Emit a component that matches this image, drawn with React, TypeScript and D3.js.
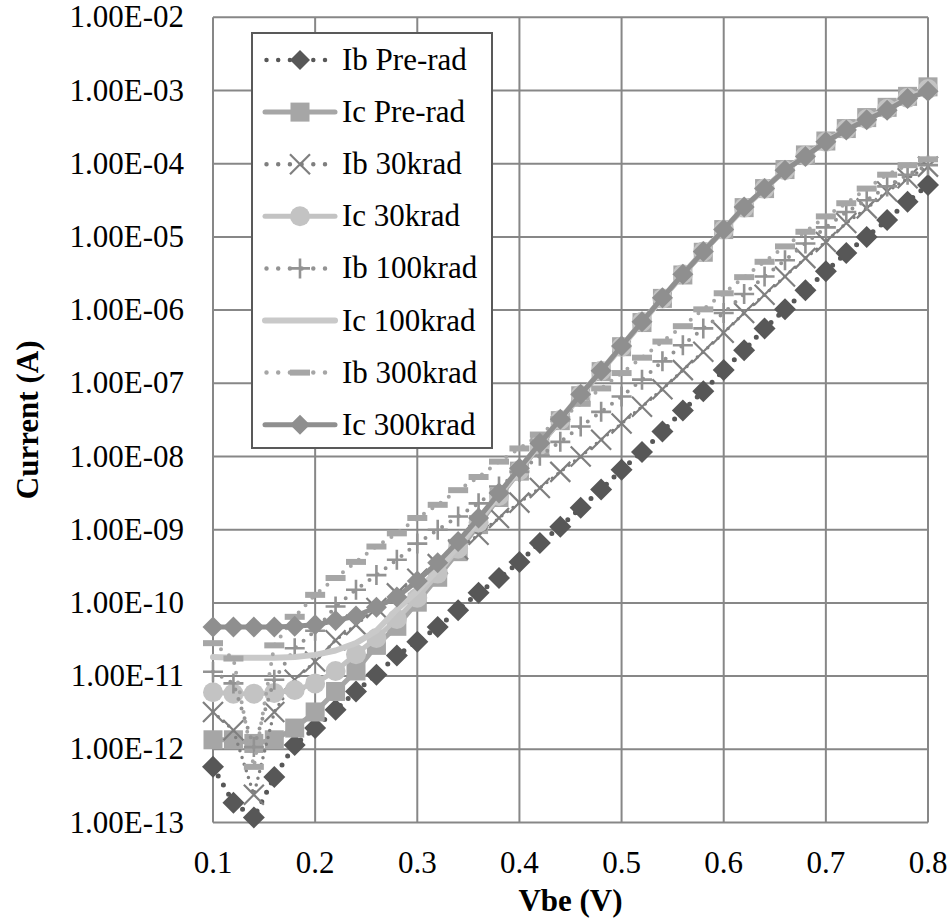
import React from "react";
import * as d3 from "d3";

// Vbe sweep (V)
const vbe = [0.1, 0.12, 0.14, 0.16, 0.18, 0.2, 0.22, 0.24, 0.26, 0.28, 0.3, 0.32, 0.34, 0.36, 0.38, 0.4, 0.42, 0.44, 0.46, 0.48, 0.5, 0.52, 0.54, 0.56, 0.58, 0.6, 0.62, 0.64, 0.66, 0.68, 0.7, 0.72, 0.74, 0.76, 0.78, 0.8];

// currents, log10(A)
const ibPreRad = [-12.24, -12.73, -12.93, -12.38, -11.94, -11.71, -11.46, -11.21, -10.98, -10.72, -10.53, -10.33, -10.10, -9.86, -9.66, -9.44, -9.18, -8.96, -8.70, -8.45, -8.18, -7.94, -7.66, -7.37, -7.11, -6.82, -6.55, -6.25, -5.99, -5.73, -5.47, -5.22, -5.00, -4.77, -4.52, -4.29];
const icPreRad = [-11.87, -11.87, -11.92, -11.87, -11.71, -11.49, -11.21, -10.93, -10.58, -10.32, -9.99, -9.65, -9.30, -8.93, -8.56, -8.20, -7.85, -7.51, -7.17, -6.84, -6.50, -6.17, -5.84, -5.52, -5.21, -4.90, -4.60, -4.34, -4.08, -3.88, -3.69, -3.52, -3.37, -3.23, -3.08, -2.95];
const ib30krad = [-11.49, -11.74, -12.62, -11.49, -11.05, -10.80, -10.51, -10.30, -10.07, -9.87, -9.67, -9.47, -9.27, -9.07, -8.84, -8.63, -8.43, -8.21, -8.00, -7.77, -7.55, -7.32, -7.08, -6.82, -6.57, -6.31, -6.04, -5.79, -5.54, -5.29, -5.07, -4.81, -4.61, -4.38, -4.20, -4.04];
const ic30krad = [-11.22, -11.24, -11.24, -11.23, -11.19, -11.10, -10.93, -10.70, -10.48, -10.22, -9.93, -9.60, -9.26, -8.90, -8.54, -8.19, -7.84, -7.50, -7.16, -6.83, -6.50, -6.16, -5.84, -5.51, -5.20, -4.90, -4.60, -4.34, -4.09, -3.89, -3.70, -3.53, -3.39, -3.25, -3.10, -2.98];
const ib100krad = [-10.94, -11.10, -11.97, -11.05, -10.62, -10.38, -10.05, -9.82, -9.62, -9.41, -9.19, -9.00, -8.82, -8.64, -8.41, -8.21, -7.99, -7.80, -7.59, -7.39, -7.18, -6.95, -6.70, -6.48, -6.25, -6.04, -5.78, -5.54, -5.32, -5.09, -4.87, -4.66, -4.50, -4.31, -4.15, -4.02];
const ic100krad = [-10.74, -10.75, -10.75, -10.75, -10.74, -10.71, -10.65, -10.55, -10.38, -10.09, -9.84, -9.55, -9.22, -8.87, -8.52, -8.18, -7.83, -7.49, -7.16, -6.83, -6.50, -6.16, -5.84, -5.51, -5.20, -4.90, -4.60, -4.34, -4.09, -3.89, -3.70, -3.53, -3.39, -3.26, -3.10, -2.99];
const ib300krad = [-10.55, -10.76, -12.24, -10.58, -10.19, -9.89, -9.66, -9.44, -9.23, -9.05, -8.84, -8.66, -8.46, -8.28, -8.07, -7.89, -7.70, -7.49, -7.28, -7.07, -6.86, -6.65, -6.43, -6.22, -5.99, -5.77, -5.55, -5.34, -5.13, -4.93, -4.72, -4.54, -4.34, -4.15, -4.02, -3.94];
const ic300krad = [-10.33, -10.33, -10.33, -10.33, -10.32, -10.30, -10.24, -10.18, -10.06, -9.92, -9.70, -9.45, -9.16, -8.84, -8.50, -8.16, -7.82, -7.49, -7.15, -6.83, -6.49, -6.16, -5.83, -5.51, -5.20, -4.90, -4.59, -4.34, -4.09, -3.90, -3.70, -3.54, -3.40, -3.27, -3.11, -3.01];

const seriesNames = ["Ib Pre-rad", "Ic Pre-rad", "Ib 30krad", "Ic 30krad", "Ib 100krad", "Ic 100krad", "Ib 300krad", "Ic 300krad"];

const xTicks = [0.1, 0.2, 0.3, 0.4, 0.5, 0.6, 0.7, 0.8];
const xTickLabels = ["0.1", "0.2", "0.3", "0.4", "0.5", "0.6", "0.7", "0.8"];
const yTicks = [1e-2, 1e-3, 1e-4, 1e-5, 1e-6, 1e-7, 1e-8, 1e-9, 1e-10, 1e-11, 1e-12, 1e-13];
const yTickLabels = ["1.00E-02", "1.00E-03", "1.00E-04", "1.00E-05", "1.00E-06", "1.00E-07", "1.00E-08", "1.00E-09", "1.00E-10", "1.00E-11", "1.00E-12", "1.00E-13"];

const W = 952;
const H = 923;
const PL = 213, PR = 928, PT = 17.3, PB = 822.5;
const FONT = '"Liberation Serif"';
const FS = 31;
const GRID = "#878787";

const x = d3.scaleLinear().domain([0.1, 0.8]).range([PL, PR]);
const y = d3.scaleLog().domain([1e-13, 1e-2]).range([PB, PT]);

type MarkerType = "diamond" | "square" | "x" | "circle" | "plus" | "none" | "dash";

interface Style {
  color: string;
  marker: MarkerType;
  dotted: boolean;
  width: number;
  dash?: string;
  msize: number;
}

const styles: Style[] = [
  { color: "#575757", marker: "diamond", dotted: true, width: 5, dash: "0 10.5", msize: 11 },
  { color: "#a6a6a6", marker: "square", dotted: false, width: 5, msize: 9.5 },
  { color: "#7f7f7f", marker: "x", dotted: true, width: 3.5, dash: "0 7", msize: 10 },
  { color: "#c3c3c3", marker: "circle", dotted: false, width: 5, msize: 10 },
  { color: "#939393", marker: "plus", dotted: true, width: 4, dash: "0 10", msize: 10 },
  { color: "#c9c9c9", marker: "none", dotted: false, width: 6, msize: 0 },
  { color: "#a6a6a6", marker: "dash", dotted: true, width: 4, dash: "0 10", msize: 10 },
  { color: "#8f8f8f", marker: "diamond", dotted: false, width: 5, msize: 10.5 },
];

const seriesData = [ibPreRad, icPreRad, ib30krad, ic30krad, ib100krad, ic100krad, ib300krad, ic300krad];

function Marker({ type, cx, cy, color, s }: { type: MarkerType; cx: number; cy: number; color: string; s: number }) {
  switch (type) {
    case "diamond":
      return <path d={`M${cx},${cy - s}L${cx + s},${cy}L${cx},${cy + s}L${cx - s},${cy}Z`} fill={color} />;
    case "square":
      return <rect x={cx - s} y={cy - s} width={2 * s} height={2 * s} fill={color} />;
    case "circle":
      return <circle cx={cx} cy={cy} r={s} fill={color} />;
    case "x":
      return (
        <path d={`M${cx - s},${cy - s}L${cx + s},${cy + s}M${cx - s},${cy + s}L${cx + s},${cy - s}`} stroke={color} strokeWidth={2.2} fill="none" />
      );
    case "plus":
      return <path d={`M${cx - s},${cy}L${cx + s},${cy}M${cx},${cy - s}L${cx},${cy + s}`} stroke={color} strokeWidth={2.6} fill="none" />;
    case "dash":
      return <rect x={cx - s} y={cy - 3} width={2 * s} height={6} fill={color} />;
    default:
      return null;
  }
}

export default function App() {
  const line = d3
    .line<number>()
    .x((_, i) => x(vbe[i]))
    .y((d) => y(Math.pow(10, d)));

  const legX0 = 252, legY0 = 33, legW = 240, legH = 415;
  const rowY = (i: number) => 60 + i * 52.1;
  const txt = { fontFamily: FONT };

  return (
    <svg width={W} height={H} style={{ position: "absolute", left: 0, top: 0, background: "#fff" }}>
      <rect x={0} y={0} width={W} height={H} fill="#fff" />
      {/* grid */}
      {yTicks.map((t, i) => (
        <line key={"gy" + i} x1={PL} x2={PR} y1={y(t)} y2={y(t)} stroke={GRID} strokeWidth={2} />
      ))}
      {xTicks.map((t, i) => (
        <line key={"gx" + i} x1={x(t)} x2={x(t)} y1={PT} y2={PB} stroke={GRID} strokeWidth={2} />
      ))}
      {/* tick labels */}
      {yTicks.map((t, i) => (
        <text key={"ly" + i} x={184} y={y(t) + 10} fontSize={FS} textAnchor="end" fill="#000" style={txt}>
          {yTickLabels[i]}
        </text>
      ))}
      {xTicks.map((t, i) => (
        <text key={"lx" + i} x={x(t)} y={873} fontSize={FS} textAnchor="middle" fill="#000" style={txt}>
          {xTickLabels[i]}
        </text>
      ))}
      <text x={(PL + PR) / 2} y={911} fontSize={FS} fontWeight="bold" textAnchor="middle" style={txt}>
        Vbe (V)
      </text>
      <text transform={`translate(38,${(PT + PB) / 2}) rotate(-90)`} fontSize={FS} fontWeight="bold" textAnchor="middle" style={txt}>
        Current (A)
      </text>
      {/* series */}
      {seriesData.map((data, si) => {
        const st = styles[si];
        return (
          <g key={"s" + si}>
            <path
              d={line(data) || ""}
              fill="none"
              stroke={st.color}
              strokeWidth={st.width}
              strokeDasharray={st.dotted ? st.dash : undefined}
              strokeLinecap="round"
              strokeLinejoin="round"
            />
            {data.map((d, i) => (
              <Marker key={i} type={st.marker} cx={x(vbe[i])} cy={y(Math.pow(10, d))} color={st.color} s={st.msize} />
            ))}
          </g>
        );
      })}
      {/* legend */}
      <rect x={legX0} y={legY0} width={legW} height={legH} fill="#fff" stroke="#595959" strokeWidth={2} />
      {seriesNames.map((name, i) => {
        const st = styles[i];
        const cy = rowY(i);
        return (
          <g key={"lg" + i}>
            <line
              x1={st.dotted ? 266.5 : 265}
              x2={st.dotted ? 327 : 335}
              y1={cy}
              y2={cy}
              stroke={st.color}
              strokeWidth={st.dotted ? 4.5 : st.width}
              strokeDasharray={st.dotted ? "0 11.7" : undefined}
              strokeLinecap="round"
            />
            <Marker type={st.marker} cx={300} cy={cy} color={st.color} s={st.marker === "none" ? 0 : Math.min(st.msize, 10)} />
            <text x={342} y={cy + 10} fontSize={FS} fill="#000" style={txt}>
              {name}
            </text>
          </g>
        );
      })}
    </svg>
  );
}
